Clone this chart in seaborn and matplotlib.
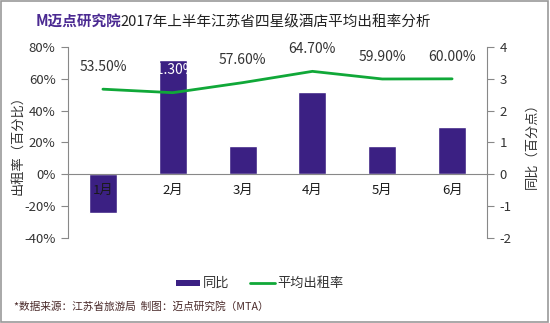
import matplotlib
matplotlib.use("Agg")
import matplotlib.pyplot as plt
import seaborn as sns
import pandas as pd
import numpy as np
from matplotlib.patches import Rectangle

months = ["1月", "2月", "3月", "4月", "5月", "6月"]
yoy = [-1.2, 3.6, 0.9, 2.6, 0.9, 1.5]            # 同比 (百分点)
occ = [53.5, 51.3, 57.6, 64.7, 59.9, 60.0]        # 平均出租率 (%)
occ_labels = ["53.50%", "51.30%", "57.60%", "64.70%", "59.90%", "60.00%"]
left_ticks = [-40, -20, 0, 20, 40, 60, 80]
right_ticks = [-2, -1, 0, 1, 2, 3, 4]

sns.set_style("white")
plt.rcParams['font.family'] = ['Noto Sans CJK SC', 'DejaVu Sans']

BAR = "#3B2083"
GREEN = "#10A838"
TXT = "#333333"
AX = "#888888"

fig = plt.figure(figsize=(5.5, 3.23), dpi=100)
ax = fig.add_axes([68/550, 1-238/323, (487-68)/550, (238-47)/323])

df = pd.DataFrame({"month": months, "yoy": yoy, "occ": occ, "idx": np.arange(len(months))})

sns.barplot(data=df, x="month", y="yoy", color=BAR, width=0.4, saturation=1, ax=ax, zorder=2)
ax2 = ax.twinx()

ax.set_axisbelow(False)
ax.set_ylim(-2, 4)
ax.set_xlim(-0.5, 5.5)
ax.yaxis.tick_right()
ax.yaxis.set_label_position("right")
ax.set_yticks(right_ticks)
ax.set_yticklabels([str(t) for t in right_ticks])
ax.set_xlabel("")
ax.set_ylabel("同比（百分点）", fontsize=9.5, color=TXT, labelpad=10, rotation=90)
for s in ["left", "top"]:
    ax.spines[s].set_visible(False)
ax.spines["bottom"].set_position(("data", 0))
ax.spines["bottom"].set_color(AX)
ax.spines["right"].set_color(AX)
ax.set_xticks(range(len(months)))
ax.set_xticklabels(months)
ax.set_xticks(np.arange(-0.5, 6.0, 1.0), minor=True)
ax.tick_params(axis="x", which="major", length=0, pad=7, labelsize=9.5, labelcolor="#1a1a1a")
ax.tick_params(axis="x", which="minor", length=4, color=AX, direction="out")
ax.tick_params(axis="y", length=5, color=AX, direction="out", labelsize=9.5, labelcolor=TXT,
               right=True, labelright=True, left=False, labelleft=False, pad=4)
ax.xaxis.set_zorder(5)

sns.lineplot(data=df, x="idx", y="occ", color=GREEN, linewidth=2, ax=ax2)
ax2.set_ylim(-40, 80)
ax2.set_xlim(-0.5, 5.5)
ax2.yaxis.tick_left()
ax2.yaxis.set_label_position("left")
ax2.set_yticks(left_ticks)
ax2.set_yticklabels([f"{t}%" for t in left_ticks])
ax2.set_ylabel("出租率（百分比）", fontsize=9.5, color=TXT, labelpad=0)
ax2.set_xlabel("")
for s in ["right", "top", "bottom"]:
    ax2.spines[s].set_visible(False)
ax2.spines["left"].set_color(AX)
ax2.tick_params(axis="y", length=5, color=AX, direction="out", labelsize=9.5, labelcolor=TXT,
                left=True, labelleft=True, right=False, labelright=False, pad=4)
ax2.tick_params(axis="x", bottom=False, labelbottom=False)

for i, (v, lab) in enumerate(zip(occ, occ_labels)):
    col = "white" if i == 1 else TXT
    ax2.annotate(lab, (i, v), xytext=(0, 16), textcoords="offset points",
                 ha="center", va="center", fontsize=10, color=col)

# Title
fig.text(36/550, 1-22/323, "M迈点研究院", fontsize=10.5, fontweight="bold", color="#4B2A92", va="center", ha="left")
fig.text(120/550, 1-22/323, "2017年上半年江苏省四星级酒店平均出租率分析", fontsize=10.5, color="#222222", va="center", ha="left")

# Legend
fig.patches.append(Rectangle((176/550, 1-286/323), 24/550, 6/323, transform=fig.transFigure, facecolor=BAR, edgecolor="none"))
fig.text(203/550, 1-283/323, "同比", fontsize=9.5, color=TXT, va="center", ha="left")
fig.lines.append(plt.Line2D([250/550, 275/550], [1-283/323, 1-283/323], transform=fig.transFigure, color=GREEN, linewidth=2))
fig.text(277/550, 1-283/323, "平均出租率", fontsize=9.5, color=TXT, va="center", ha="left")

# Source
fig.text(14/550, 1-306/323, "*数据来源：江苏省旅游局  制图：迈点研究院（MTA）", fontsize=7.7, color="#4a2a2a", va="center", ha="left")

# Border
fig.patches.append(Rectangle((0.002, 0.003), 0.995, 0.994, transform=fig.transFigure, facecolor="none", edgecolor="#999999", linewidth=1.2))

fig.savefig("out.png", dpi=100)
